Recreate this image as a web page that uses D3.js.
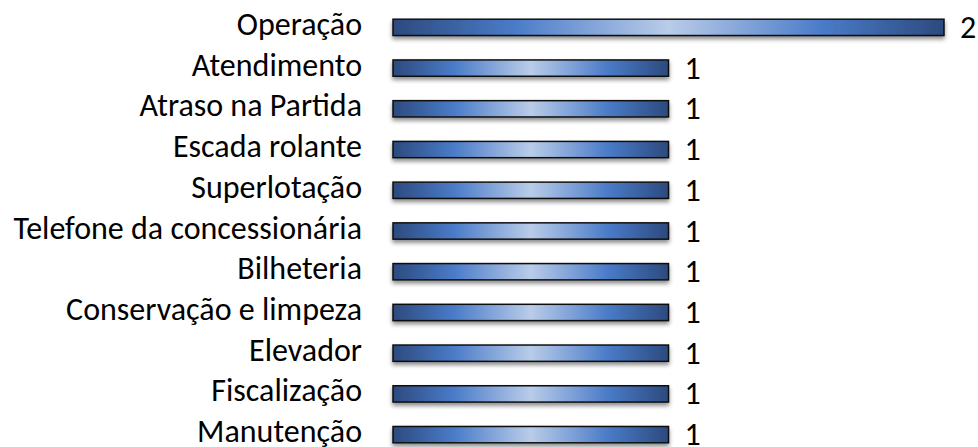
<!DOCTYPE html>
<html><head><meta charset="utf-8">
<script src="https://cdn.jsdelivr.net/npm/d3@7"></script>
<style>body{margin:0;background:#fff;}svg{display:block;}</style>
</head><body>
<svg id="c" width="978" height="447"></svg>
<script>
const categories = ["Operação","Atendimento","Atraso na Partida","Escada rolante","Superlotação","Telefone da concessionária","Bilheteria","Conservação e limpeza","Elevador","Fiscalização","Manutenção"];
const values = [2,1,1,1,1,1,1,1,1,1,1];

const svg = d3.select("#c");
const x = d3.scaleLinear().domain([0,2]).range([393,944]);
const y = d3.scaleBand().domain(categories).range([7,455]).paddingInner(0.6).paddingOuter(0.3);

const defs = svg.append("defs");
const g = defs.append("linearGradient").attr("id","gr").attr("x1","0").attr("x2","1").attr("y1","0").attr("y2","0");
[[0,"#2c4a7e"],[0.22,"#4a7bc8"],[0.5,"#b9cce9"],[0.78,"#4a7bc8"],[1,"#2c4a7e"]].forEach(([o,c])=>g.append("stop").attr("offset",o).attr("stop-color",c));
const f = defs.append("filter").attr("id","sh").attr("x","-5%").attr("y","-50%").attr("width","110%").attr("height","250%");
f.append("feDropShadow").attr("dx",0).attr("dy",3).attr("stdDeviation",2).attr("flood-color","#000").attr("flood-opacity",0.45);

const font = "Carlito, Calibri, 'Open Sans', sans-serif";
const fs = "32px";
const rows = svg.selectAll("g.r").data(categories).join("g").attr("class","r");
rows.append("rect")
  .attr("x", x(0))
  .attr("y", d=>y(d))
  .attr("width", (d,i)=>x(values[i])-x(0))
  .attr("height", y.bandwidth())
  .attr("fill","url(#gr)")
  .attr("stroke","#111").attr("stroke-width",1.5)
  .attr("filter","url(#sh)");
rows.append("text")
  .attr("x", 362).attr("y", d=>y(d)+y.bandwidth()/2-3)
  .attr("text-anchor","end").attr("dominant-baseline","central")
  .style("font-family",font).style("font-size",fs).attr("fill","#000")
  .text(d=>d);
rows.append("text")
  .attr("x", (d,i)=>x(values[i])+16).attr("y", d=>y(d)+y.bandwidth()/2)
  .attr("text-anchor","start").attr("dominant-baseline","central")
  .style("font-family",font).style("font-size",fs).attr("fill","#000")
  .text((d,i)=>values[i]);
</script>
</body></html>
